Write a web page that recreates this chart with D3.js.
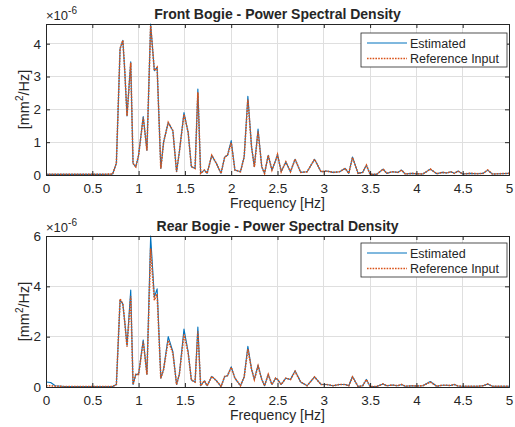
<!DOCTYPE html>
<html><head><meta charset="utf-8">
<script src="https://cdn.jsdelivr.net/npm/d3@7"></script>
<style>
body{margin:0;background:#fff;}
text{font-family:"Liberation Sans",Arial,Helvetica,sans-serif;fill:#262626;}
</style></head><body>
<svg id="c" width="515" height="427"></svg>
<script>
// Frequency grid (Hz) for all series
const freq = [0,0.05,0.1,0.2,0.4,0.6,0.72,0.76,0.80,0.83,0.85,0.875,0.915,0.94,0.97,1.0,1.05,1.09,1.13,1.17,1.20,1.24,1.27,1.32,1.37,1.41,1.44,1.49,1.535,1.57,1.61,1.64,1.67,1.71,1.74,1.79,1.84,1.89,1.93,1.96,2.0,2.04,2.1,2.14,2.18,2.22,2.25,2.29,2.33,2.36,2.40,2.44,2.48,2.50,2.54,2.59,2.64,2.69,2.75,2.82,2.90,2.97,3.03,3.1,3.17,3.23,3.27,3.31,3.37,3.42,3.46,3.50,3.57,3.64,3.68,3.74,3.80,3.84,3.88,3.95,4.0,4.07,4.15,4.22,4.28,4.33,4.37,4.41,4.45,4.5,4.58,4.66,4.72,4.77,4.82,4.9,5.0];

// Front bogie PSD (x1e-6 mm^2/Hz)
const frontEstimated = [0.02,0.02,0.02,0.02,0.02,0.02,0.03,0.36,3.85,4.1,3.2,1.8,3.45,0.35,0.25,0.6,1.78,0.75,4.6,3.18,3.28,0.2,1.0,1.6,1.35,0.1,0.7,1.9,1.3,0.25,0.2,2.62,0.05,0.15,0.05,0.6,0.35,0.05,0.55,0.6,1.05,0.15,0.1,0.55,2.4,0.85,0.25,1.4,0.25,0.05,0.6,0.15,0.45,0.63,0.1,0.4,0.1,0.48,0.08,0.1,0.48,0.1,0.12,0.08,0.1,0.2,0.05,0.55,0.05,0.08,0.3,0.02,0.02,0.18,0.05,0.1,0.08,0.15,0.03,0.05,0.04,0.03,0.18,0.04,0.08,0.06,0.1,0.05,0.12,0.03,0.05,0.04,0.05,0.15,0.03,0.04,0.05];
const frontReference = [0.02,0.02,0.02,0.02,0.02,0.02,0.03,0.36,3.85,4.1,3.2,1.8,3.42,0.35,0.25,0.6,1.75,0.75,4.55,3.18,3.28,0.2,1.0,1.6,1.35,0.1,0.7,1.85,1.3,0.25,0.2,2.52,0.05,0.15,0.05,0.6,0.35,0.05,0.55,0.6,0.98,0.15,0.1,0.55,2.3,0.85,0.25,1.32,0.25,0.05,0.6,0.15,0.45,0.62,0.1,0.4,0.1,0.48,0.08,0.1,0.48,0.1,0.12,0.08,0.1,0.2,0.05,0.53,0.05,0.08,0.3,0.02,0.02,0.18,0.05,0.1,0.08,0.15,0.03,0.05,0.04,0.03,0.18,0.04,0.08,0.06,0.1,0.05,0.12,0.03,0.05,0.04,0.05,0.15,0.03,0.04,0.05];

// Rear bogie PSD (x1e-6 mm^2/Hz)
const rearEstimated = [0.2,0.18,0.05,0.02,0.02,0.02,0.02,0.1,3.45,3.3,2.6,1.65,3.85,0.1,0.5,0.5,1.87,0.5,6.0,3.57,3.9,0.35,0.7,2.0,1.4,0.1,0.5,2.3,1.4,0.28,0.2,2.38,0.05,0.25,0.05,0.42,0.25,0.02,0.42,0.45,0.8,0.35,0.05,0.4,1.62,0.7,0.3,0.87,0.3,0.05,0.5,0.1,0.35,0.3,0.1,0.35,0.3,0.65,0.2,0.05,0.4,0.1,0.1,0.05,0.1,0.1,0.05,0.42,0.02,0.05,0.3,0.02,0.02,0.12,0.05,0.08,0.05,0.1,0.03,0.05,0.04,0.05,0.22,0.03,0.07,0.07,0.06,0.1,0.04,0.03,0.03,0.03,0.05,0.12,0.03,0.03,0.03];
const rearReference = [0.05,0.05,0.03,0.02,0.02,0.02,0.02,0.1,3.5,3.3,2.6,1.6,3.6,0.1,0.5,0.5,1.8,0.5,5.5,3.45,3.7,0.35,0.7,1.85,1.35,0.1,0.5,2.1,1.35,0.28,0.2,2.2,0.05,0.25,0.05,0.42,0.25,0.02,0.42,0.45,0.78,0.35,0.05,0.4,1.5,0.7,0.3,0.83,0.3,0.05,0.5,0.1,0.35,0.3,0.1,0.35,0.3,0.62,0.2,0.05,0.4,0.1,0.1,0.05,0.1,0.1,0.05,0.4,0.02,0.05,0.3,0.02,0.02,0.12,0.05,0.08,0.05,0.1,0.03,0.05,0.04,0.05,0.2,0.03,0.07,0.07,0.06,0.1,0.04,0.03,0.03,0.03,0.05,0.12,0.03,0.03,0.03];

const xTicks = [0,0.5,1,1.5,2,2.5,3,3.5,4,4.5,5];
const frontYTicks = [0,1,2,3,4];
const rearYTicks = [0,2,4,6];
const titles = ["Front Bogie - Power Spectral Density","Rear Bogie - Power Spectral Density"];
const seriesNames = ["Estimated","Reference Input"];
const xLabel = "Frequency [Hz]";

const svg = d3.select("#c");
const L = 46, R = 509;
const panels = [
  {top:24, bottom:175, est:frontEstimated, ref:frontReference, yTicks:frontYTicks, ymax:d3.max(frontEstimated), title:titles[0], legTop:33},
  {top:236, bottom:387, est:rearEstimated, ref:rearReference, yTicks:rearYTicks, ymax:6, title:titles[1], legTop:243}
];
const blue = "#0072BD", orange = "#D95319", axc = "#262626", grid = "#dfdfdf";
const FF = "'Liberation Sans',Arial,sans-serif";

panels.forEach(p => {
  const x = d3.scaleLinear().domain([0,5]).range([L,R]);
  const y = d3.scaleLinear().domain([0,p.ymax]).range([p.bottom,p.top]);
  const g = svg.append("g");
  // grid
  g.selectAll(".gx").data(xTicks).join("line")
    .attr("x1",d=>x(d)).attr("x2",d=>x(d)).attr("y1",p.top).attr("y2",p.bottom)
    .attr("stroke",grid).attr("stroke-width",1).attr("shape-rendering","crispEdges");
  g.selectAll(".gy").data(p.yTicks).join("line")
    .attr("x1",L).attr("x2",R).attr("y1",d=>y(d)).attr("y2",d=>y(d))
    .attr("stroke",grid).attr("stroke-width",1).attr("shape-rendering","crispEdges");
  // lines
  const line = d3.line().x((d,i)=>x(freq[i])).y(d=>y(d));
  g.append("path").datum(p.est).attr("d",line).attr("fill","none")
    .attr("stroke",blue).attr("stroke-width",1.1).attr("stroke-linejoin","round");
  g.append("path").datum(p.ref).attr("d",line).attr("fill","none")
    .attr("stroke",orange).attr("stroke-width",1.6).attr("stroke-dasharray","1.6,1.2");
  // axes with inward ticks
  const ax = g.append("g").attr("transform",`translate(0,${p.bottom})`)
    .call(d3.axisBottom(x).tickValues(xTicks).tickSize(-4).tickPadding(8).tickFormat(d3.format("")));
  const axTop = g.append("g").attr("transform",`translate(0,${p.top})`)
    .call(d3.axisTop(x).tickValues(xTicks).tickSize(-4).tickFormat(""));
  const ay = g.append("g").attr("transform",`translate(${L},0)`)
    .call(d3.axisLeft(y).tickValues(p.yTicks).tickSize(-4).tickPadding(5).tickFormat(d3.format("")));
  const ayR = g.append("g").attr("transform",`translate(${R},0)`)
    .call(d3.axisRight(y).tickValues(p.yTicks).tickSize(-4).tickFormat(""));
  [ax,axTop,ay,ayR].forEach(a=>{
    a.select(".domain").attr("stroke",axc).attr("stroke-width",1);
    a.selectAll(".tick line").attr("stroke",axc);
    a.selectAll("text").attr("font-size",13.5).attr("fill",axc).attr("font-family",FF);
  });
  // title
  g.append("text").attr("x",(L+R)/2).attr("y",p.top-5).attr("text-anchor","middle")
    .attr("font-size",14).attr("font-weight","bold").text(p.title);
  // x label
  g.append("text").attr("x",(L+R)/2).attr("y",p.bottom+33).attr("text-anchor","middle")
    .attr("font-size",14).text(xLabel);
  // y label
  const yl = g.append("text").attr("transform",`translate(29,${(p.top+p.bottom)/2}) rotate(-90)`)
    .attr("text-anchor","middle").attr("font-size",14.5);
  yl.append("tspan").text("[mm");
  yl.append("tspan").attr("dy",-6).attr("font-size",10).text("2");
  yl.append("tspan").attr("dy",6).text("/Hz]");
  // exponent
  const ex = g.append("text").attr("x",L).attr("y",p.top-4).attr("font-size",13).attr("fill","#555");
  ex.append("tspan").text("\u00d710");
  ex.append("tspan").attr("dy",-6).attr("font-size",10).text("-6");
  // legend
  const lx = 361, ly = p.legTop, lw = 146, lh = 34;
  const lg = g.append("g");
  lg.append("rect").attr("x",lx).attr("y",ly).attr("width",lw).attr("height",lh)
    .attr("fill","#fff").attr("stroke",axc).attr("stroke-width",0.8);
  [[blue,null,1.1],[orange,"1.6,1.2",1.6]].forEach((s,i)=>{
    const yy = ly + 10 + i*15.5;
    lg.append("line").attr("x1",lx+6).attr("x2",lx+46).attr("y1",yy).attr("y2",yy)
      .attr("stroke",s[0]).attr("stroke-width",s[2]).attr("stroke-dasharray",s[1]);
    lg.append("text").attr("x",lx+49).attr("y",yy+4.5).attr("font-size",12.5).text(seriesNames[i]);
  });
});
</script>
</body></html>
